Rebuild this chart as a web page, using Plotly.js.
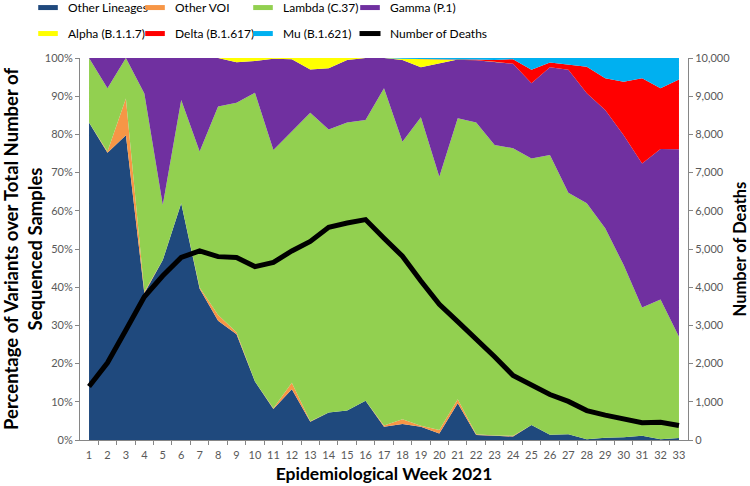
<!DOCTYPE html>
<html>
<head>
<meta charset="utf-8">
<script src="https://cdn.plot.ly/plotly-3.0.1.min.js"></script>
<style>html,body{margin:0;padding:0;background:#fff;}#chart{width:750px;height:486px;}</style>
</head>
<body>
<div id="chart"></div>
<script>
// Epidemiological weeks 2021
const weeks = [1,2,3,4,5,6,7,8,9,10,11,12,13,14,15,16,17,18,19,20,21,22,23,24,25,26,27,28,29,30,31,32,33];

// Percentage of sequenced samples per variant (%)
const otherLineages = [83.1,75.2,79.8,38.4,47.1,62.0,39.6,31.2,27.7,15.3,8.1,13.3,4.8,7.2,7.7,10.3,3.5,4.2,3.5,1.7,9.6,1.3,1.1,0.9,3.9,1.4,1.5,0.2,0.6,0.7,1.1,0.2,0.5];
const otherVOI      = [0,0.3,9.6,0.4,0,0,0.3,1.5,0.5,0,0.2,1.7,0.1,0,0,0,0.3,1.2,0.2,0.9,1.1,0.2,0.1,0.2,0,0,0,0,0,0,0,0,0];
const lambda        = [16.9,16.6,10.6,51.9,14.4,27.0,35.6,54.6,60.1,75.6,67.6,65.7,80.8,74.1,75.4,73.5,88.3,72.7,80.8,66.3,73.5,81.6,76.0,75.3,69.8,73.2,63.2,61.8,54.8,45.1,33.6,36.6,26.5];
const gamma         = [0,7.9,0,9.3,38.5,11.0,24.5,12.7,10.6,8.3,23.9,19.0,11.3,16.0,16.4,16.2,7.9,21.4,13.1,29.7,15.4,16.3,21.8,22.1,19.7,23.0,32.2,28.8,31.0,34.0,37.7,39.4,49.1];
const alpha         = [0,0,0,0,0,0,0,0,1.1,0.8,0.2,0.3,3.0,2.7,0.5,0,0,0.3,2.1,1.0,0,0,0,0,0,0,0,0,0,0,0,0,0];
const delta         = [0,0,0,0,0,0,0,0,0,0,0,0,0,0,0,0,0,0,0,0,0,0.2,0.5,1.2,3.5,1.2,1.3,6.9,8.3,14.0,22.3,15.9,18.3];
const mu            = [0,0,0,0,0,0,0,0,0,0,0,0,0,0,0,0,0,0.2,0.3,0.4,0.4,0.4,0.5,0.3,3.1,1.2,1.8,2.3,5.3,6.2,5.3,7.9,5.6];

// Number of deaths per week
const deaths = [1400,2020,2880,3750,4300,4780,4950,4800,4780,4540,4650,4950,5200,5570,5680,5770,5280,4810,4160,3550,3100,2650,2180,1690,1450,1190,1010,770,650,555,450,465,380];

// Axis tick labels
const pctTickVals   = [0,10,20,30,40,50,60,70,80,90,100];
const pctTickText   = ["0%","10%","20%","30%","40%","50%","60%","70%","80%","90%","100%"];
const deathTickVals = [0,1000,2000,3000,4000,5000,6000,7000,8000,9000,10000];

const seriesNames  = ["Other Lineages","Other VOI","Lambda (C.37)","Gamma (P.1)","Alpha (B.1.1.7)","Delta (B.1.617)","Mu (B.1.621)"];
const seriesData   = [otherLineages, otherVOI, lambda, gamma, alpha, delta, mu];
const seriesColors = ["#1F497D","#F79646","#92D050","#7030A0","#FFFF00","#FF0000","#00B0F0"];

// one legend box per entry, laid out as 2 rows x 4 columns like the original
const legendIds = ["legend","legend2","legend3","legend4","legend5","legend6","legend7","legend8"];
const legendColX = [-0.0855, 0.0905, 0.2681, 0.4441];
const legendRowY = [1.170, 1.102];

// stacked areas
const traces = seriesNames.map((name, i) => ({
  type: "scatter",
  mode: "lines",
  x: weeks,
  y: seriesData[i],
  name: name,
  stackgroup: "one",
  line: {width: 0, color: seriesColors[i]},
  fillcolor: seriesColors[i],
  showlegend: false,
  hoverinfo: "x+y+name"
}));

// deaths line on secondary axis
traces.push({
  type: "scatter",
  mode: "lines",
  x: weeks,
  y: deaths,
  name: "Number of Deaths",
  yaxis: "y2",
  line: {color: "#000000", width: 5},
  showlegend: false
});

// legend entries (small Excel-like swatches)
seriesNames.forEach((name, i) => {
  traces.push({
    type: "scatter", mode: "markers", x: [null], y: [null], name: name,
    legend: legendIds[i], hoverinfo: "skip",
    marker: {symbol: "line-ew", size: 14, line: {width: 8, color: seriesColors[i]}, color: seriesColors[i]}
  });
});
traces.push({
  type: "scatter", mode: "markers", x: [null], y: [null], name: "Number of Deaths",
  legend: legendIds[7], hoverinfo: "skip",
  marker: {symbol: "line-ew", size: 15, line: {width: 5, color: "#000000"}, color: "#000000"}
});

const fam = "Lato, 'Open Sans', sans-serif";
const tickFont = {family: fam, size: 11, color: "#595959"};
const legFont = {family: fam, size: 12, color: "#000000"};

const layout = {
  width: 750,
  height: 486,
  margin: {l: 80, r: 62, t: 58, b: 46, autoexpand: false},
  paper_bgcolor: "#ffffff",
  plot_bgcolor: "#ffffff",
  showlegend: true,
  xaxis: {
    range: [0.51, 33.49],
    tickmode: "array",
    tickvals: weeks,
    ticktext: weeks.map(String),
    ticks: "",
    ticklabelstandoff: 5,
    tickfont: tickFont,
    showgrid: false,
    zeroline: false,
    showline: true,
    linecolor: "#868686",
    linewidth: 1,
    minor: {tick0: 0.5, dtick: 1, ticks: "outside", ticklen: 4, tickcolor: "#868686", showgrid: false},
    title: {text: "Epidemiological Week 2021", font: {family: fam, size: 17.5, color: "#000", weight: "bold"}, standoff: 7}
  },
  yaxis: {
    range: [0, 100],
    tickmode: "array",
    tickvals: pctTickVals,
    ticktext: pctTickText,
    ticks: "outside",
    ticklen: 4,
    tickcolor: "#868686",
    tickfont: tickFont,
    showgrid: false,
    zeroline: false,
    showline: true,
    linecolor: "#868686",
    title: {text: "Percentage of Variants over Total Number of<br>Sequenced Samples", font: {family: fam, size: 18.5, color: "#000", weight: "bold"}, standoff: 5}
  },
  yaxis2: {
    overlaying: "y",
    side: "right",
    range: [0, 10000],
    tickmode: "array",
    tickvals: deathTickVals,
    tickformat: ",d",
    ticks: "outside",
    ticklen: 4,
    tickcolor: "#868686",
    tickfont: tickFont,
    showgrid: false,
    zeroline: false,
    showline: true,
    linecolor: "#868686",
    title: {text: "Number of Deaths", font: {family: fam, size: 16.5, color: "#000", weight: "bold"}, standoff: 8}
  }
};

legendIds.forEach((id, k) => {
  layout[id] = {
    orientation: "v",
    x: legendColX[k % 4], xanchor: "left",
    y: legendRowY[Math.floor(k / 4)], yanchor: "top",
    font: legFont,
    bgcolor: "rgba(0,0,0,0)",
    borderwidth: 0
  };
});

Plotly.newPlot("chart", traces, layout, {displayModeBar: false, staticPlot: true});
</script>
</body>
</html>
